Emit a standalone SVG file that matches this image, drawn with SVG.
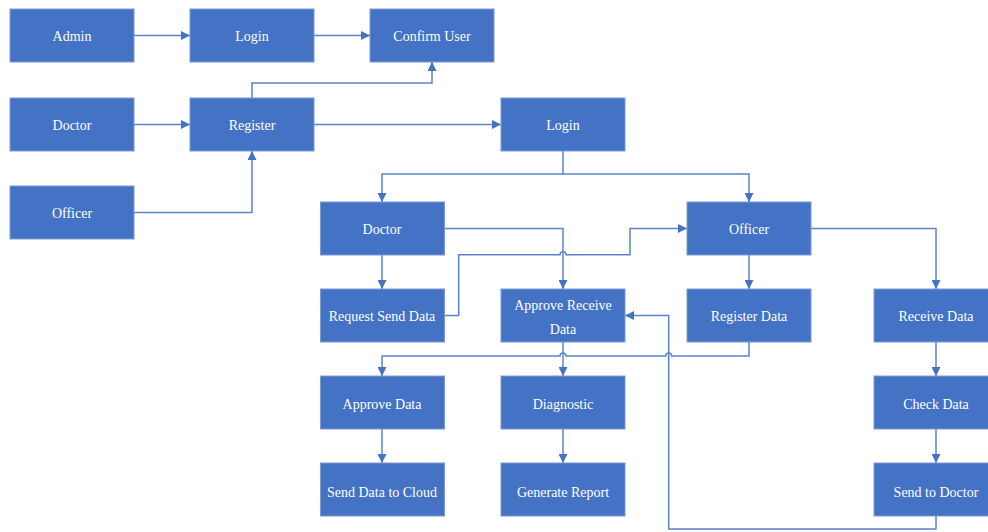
<svg xmlns="http://www.w3.org/2000/svg" width="988" height="532" viewBox="0 0 988 532">
<style>
.n rect{fill:#4472C4;stroke:#7A9AD4;stroke-width:1}
.n text{fill:#fff;font-family:'Liberation Serif','Times New Roman',serif;font-size:14px;text-anchor:middle}
.c path{fill:none;stroke:#5B84CC;stroke-width:1.5;marker-end:url(#a)}
.c path.h{marker-end:none}
</style>
<defs>
<marker id="a" viewBox="0 0 10 10" refX="10" refY="5" markerWidth="6" markerHeight="6" markerUnits="strokeWidth" orient="auto"><path d="M0,0L10,5L0,10z" fill="#4472C4"/></marker>
</defs>
<rect width="988" height="532" fill="#fff"/>
<g class="c">
<path d="M134,35.5H190"/>
<path d="M314,35.5H370"/>
<path d="M134,124.5H190"/>
<path d="M252,98V83H432V62"/>
<path d="M134,212.5H252V151"/>
<path d="M314,124.5H501"/>
<path class="h" d="M563,151V174"/>
<path d="M563,174H382V202"/>
<path d="M563,174H749V202"/>
<path d="M382,255V289"/>
<path d="M444,228.5H563V289"/>
<path d="M444,315.5H458.7V254.7H560A3,3 0 0 1 566,254.7H630V228.5H687"/>
<path d="M749,255V289"/>
<path d="M811,228.5H936V289"/>
<path d="M749,342V356H671.7A3,3 0 0 0 665.7,356H566A3,3 0 0 0 560,356H382V376"/>
<path d="M563,342V376"/>
<path d="M382,429V463"/>
<path d="M563,429V463"/>
<path d="M936,342V376"/>
<path d="M936,429V463"/>
<path d="M936,516V529H668.7V315.5H625"/>
</g>
<g class="n" id="admin"><rect x="10" y="9" width="124" height="53"/><text x="72" y="41">Admin</text></g>
<g class="n" id="login1"><rect x="190" y="9" width="124" height="53"/><text x="252" y="41">Login</text></g>
<g class="n" id="confirm"><rect x="370" y="9" width="124" height="53"/><text x="432" y="41">Confirm User</text></g>
<g class="n" id="doctor1"><rect x="10" y="98" width="124" height="53"/><text x="72" y="130">Doctor</text></g>
<g class="n" id="register"><rect x="190" y="98" width="124" height="53"/><text x="252" y="130">Register</text></g>
<g class="n" id="login2"><rect x="501" y="98" width="124" height="53"/><text x="563" y="130">Login</text></g>
<g class="n" id="officer1"><rect x="10" y="186" width="124" height="53"/><text x="72" y="218">Officer</text></g>
<g class="n" id="doctor2"><rect x="320.5" y="202" width="124" height="53"/><text x="382" y="234">Doctor</text></g>
<g class="n" id="officer2"><rect x="687" y="202" width="124" height="53"/><text x="749" y="234">Officer</text></g>
<g class="n" id="reqsend"><rect x="320.5" y="289" width="124" height="53"/><text x="382" y="321">Request Send Data</text></g>
<g class="n" id="approverecv"><rect x="501" y="289" width="124" height="53"/><text x="563" y="310">Approve Receive</text><text x="563" y="334">Data</text></g>
<g class="n" id="regdata"><rect x="687" y="289" width="124" height="53"/><text x="749" y="321">Register Data</text></g>
<g class="n" id="recvdata"><rect x="874" y="289" width="124" height="53"/><text x="936" y="321">Receive Data</text></g>
<g class="n" id="approvedata"><rect x="320.5" y="376" width="124" height="53"/><text x="382" y="409">Approve Data</text></g>
<g class="n" id="diagnostic"><rect x="501" y="376" width="124" height="53"/><text x="563" y="409">Diagnostic</text></g>
<g class="n" id="checkdata"><rect x="874" y="376" width="124" height="53"/><text x="936" y="409">Check Data</text></g>
<g class="n" id="sendcloud"><rect x="320.5" y="463" width="124" height="53"/><text x="382" y="497">Send Data to Cloud</text></g>
<g class="n" id="genreport"><rect x="501" y="463" width="124" height="53"/><text x="563" y="497">Generate Report</text></g>
<g class="n" id="senddoctor"><rect x="874" y="463" width="124" height="53"/><text x="936" y="497">Send to Doctor</text></g>
</svg>
